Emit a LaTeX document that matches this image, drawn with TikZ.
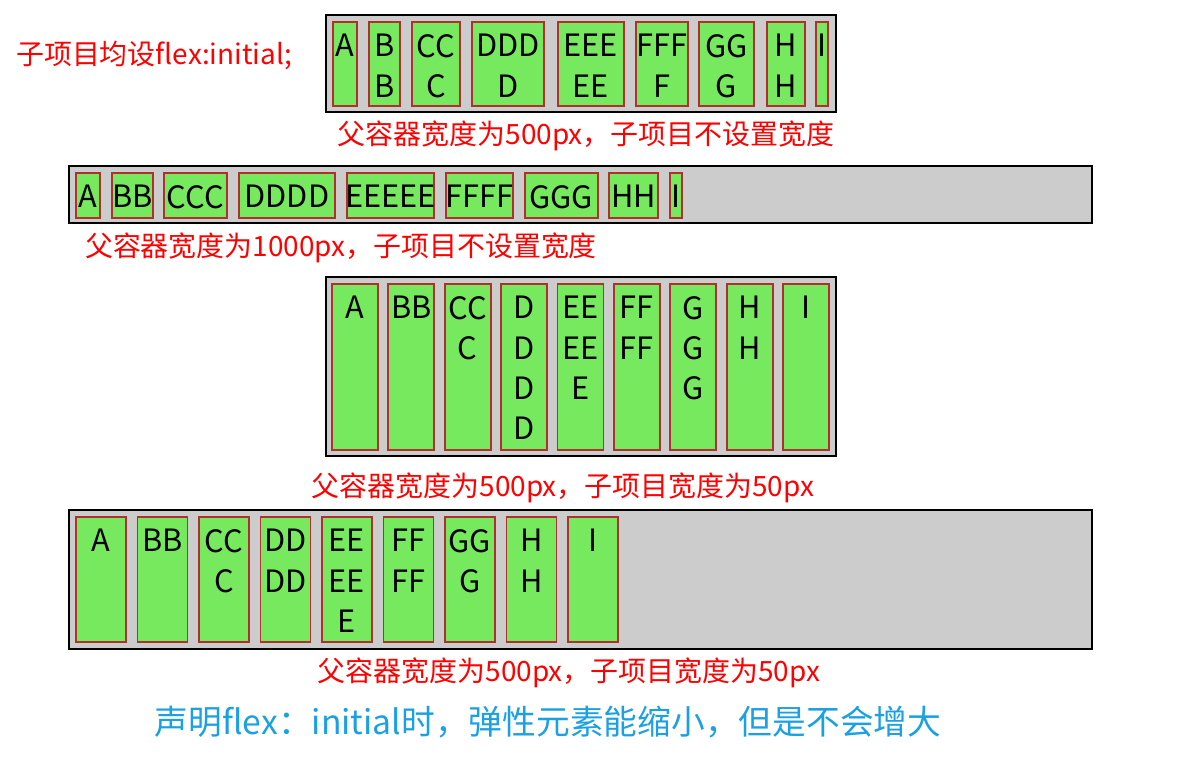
\documentclass[tikz,border=0pt]{standalone}
\usepackage{fontspec}
\newfontfamily\cjk{Noto Sans CJK SC}
\definecolor{itemGreen}{RGB}{118,233,94}
\definecolor{itemBorder}{RGB}{176,48,48}
\definecolor{boxGray}{RGB}{204,204,204}
\definecolor{noteRed}{RGB}{255,0,0}
\definecolor{noteBlue}{RGB}{27,161,226}
\tikzset{
	parentBox/.style 2 args={rectangle, draw=black, line width=1.2pt, fill=boxGray, anchor=north west, inner sep=0pt, minimum width=#1*0.02cm, minimum height=#2*0.02cm},
	itemBox/.style 2 args={rectangle, draw=itemBorder, line width=1pt, fill=itemGreen, anchor=north west, inner sep=0pt, minimum width=#1*0.02cm, minimum height=#2*0.02cm},
	itemText/.style={anchor=north, inner sep=0pt, yshift=-7.3pt, align=center, font=\cjk\fontsize{17.5}{23}\selectfont},
	noteText/.style={inner sep=0pt, text=noteRed, font=\cjk\fontsize{15.9}{19}\selectfont}
}
\begin{document}
\begin{tikzpicture}[x=0.02cm, y=-0.02cm]
	\useasboundingbox (0,0) rectangle (1202,760);
		% row 1: 500px, no width
		\node(row1Title)[noteText] at (154,55){子项目均设flex:initial;};
		\node[parentBox={510}{97}](row1Box) at (325,14){};
		\node[itemBox={24}{84}](row1ItemA) at (332,21){};
		\node[itemBox={31}{84}](row1ItemB) at (368,21){};
		\node[itemBox={48}{84}](row1ItemC) at (411,21){};
		\node[itemBox={72}{84}](row1ItemD) at (471,21){};
		\node[itemBox={66}{84}](row1ItemE) at (557,21){};
		\node[itemBox={52}{84}](row1ItemF) at (635,21){};
		\node[itemBox={55}{84}](row1ItemG) at (698,21){};
		\node[itemBox={38}{84}](row1ItemH) at (766,21){};
		\node[itemBox={12}{84}](row1ItemI) at (815,21){};
		\node[itemText](row1ItemALabel) at (row1ItemA.north){A};
		\node[itemText](row1ItemBLabel) at (row1ItemB.north){B\\B};
		\node[itemText](row1ItemCLabel) at (row1ItemC.north){CC\\C};
		\node[itemText](row1ItemDLabel) at (row1ItemD.north){DDD\\D};
		\node[itemText](row1ItemELabel) at (row1ItemE.north){EEE\\EE};
		\node[itemText](row1ItemFLabel) at (row1ItemF.north){FFF\\F};
		\node[itemText](row1ItemGLabel) at (row1ItemG.north){GG\\G};
		\node[itemText](row1ItemHLabel) at (row1ItemH.north){H\\H};
		\node[itemText](row1ItemILabel) at (row1ItemI.north){I};
		\node(row1Note)[noteText] at (586,136){父容器宽度为500px，子项目不设置宽度};
		% row 2: 1000px, no width
		\node[parentBox={1023}{57}](row2Box) at (68,165){};
		\node[itemBox={24}{45}](row2ItemA) at (75,172){};
		\node[itemBox={41}{45}](row2ItemB) at (111,172){};
		\node[itemBox={63}{45}](row2ItemC) at (163,172){};
		\node[itemBox={96}{45}](row2ItemD) at (238,172){};
		\node[itemBox={87}{45}](row2ItemE) at (346,172){};
		\node[itemBox={67}{45}](row2ItemF) at (445,172){};
		\node[itemBox={73}{45}](row2ItemG) at (524,172){};
		\node[itemBox={49}{45}](row2ItemH) at (608,172){};
		\node[itemBox={12}{45}](row2ItemI) at (669,172){};
		\node[itemText](row2ItemALabel) at (row2ItemA.north){A};
		\node[itemText](row2ItemBLabel) at (row2ItemB.north){BB};
		\node[itemText](row2ItemCLabel) at (row2ItemC.north){CCC};
		\node[itemText](row2ItemDLabel) at (row2ItemD.north){DDDD};
		\node[itemText](row2ItemELabel) at (row2ItemE.north){EEEEE};
		\node[itemText](row2ItemFLabel) at (row2ItemF.north){FFFF};
		\node[itemText](row2ItemGLabel) at (row2ItemG.north){GGG};
		\node[itemText](row2ItemHLabel) at (row2ItemH.north){HH};
		\node[itemText](row2ItemILabel) at (row2ItemI.north){I};
		\node(row2Note)[noteText] at (341,248){父容器宽度为1000px，子项目不设置宽度};
		% row 3: 500px, width 50px
		\node[parentBox={510}{179}](row3Box) at (325,276){};
		\node[itemBox={46}{166}](row3ItemA) at (331,283){};
		\node[itemBox={46}{166}](row3ItemB) at (387.4,283){};
		\node[itemBox={46}{166}](row3ItemC) at (443.8,283){};
		\node[itemBox={46}{166}](row3ItemD) at (500.2,283){};
		\node[itemBox={46}{166}](row3ItemE) at (556.6,283){};
		\node[itemBox={46}{166}](row3ItemF) at (613,283){};
		\node[itemBox={46}{166}](row3ItemG) at (669.4,283){};
		\node[itemBox={46}{166}](row3ItemH) at (725.8,283){};
		\node[itemBox={46}{166}](row3ItemI) at (782.2,283){};
		\node[itemText](row3ItemALabel) at (row3ItemA.north){A};
		\node[itemText](row3ItemBLabel) at (row3ItemB.north){BB};
		\node[itemText](row3ItemCLabel) at (row3ItemC.north){CC\\C};
		\node[itemText](row3ItemDLabel) at (row3ItemD.north){D\\D\\D\\D};
		\node[itemText](row3ItemELabel) at (row3ItemE.north){EE\\EE\\E};
		\node[itemText](row3ItemFLabel) at (row3ItemF.north){FF\\FF};
		\node[itemText](row3ItemGLabel) at (row3ItemG.north){G\\G\\G};
		\node[itemText](row3ItemHLabel) at (row3ItemH.north){H\\H};
		\node[itemText](row3ItemILabel) at (row3ItemI.north){I};
		\node(row3Note)[noteText] at (563,488){父容器宽度为500px，子项目宽度为50px};
		% row 4: wide box, width 50px
		\node[parentBox={1023}{139}](row4Box) at (68,509){};
		\node[itemBox={50}{125}](row4ItemA) at (75,516){};
		\node[itemBox={50}{125}](row4ItemB) at (136.5,516){};
		\node[itemBox={50}{125}](row4ItemC) at (198,516){};
		\node[itemBox={50}{125}](row4ItemD) at (259.5,516){};
		\node[itemBox={50}{125}](row4ItemE) at (321,516){};
		\node[itemBox={50}{125}](row4ItemF) at (382.5,516){};
		\node[itemBox={50}{125}](row4ItemG) at (444,516){};
		\node[itemBox={50}{125}](row4ItemH) at (505.5,516){};
		\node[itemBox={50}{125}](row4ItemI) at (567,516){};
		\node[itemText](row4ItemALabel) at (row4ItemA.north){A};
		\node[itemText](row4ItemBLabel) at (row4ItemB.north){BB};
		\node[itemText](row4ItemCLabel) at (row4ItemC.north){CC\\C};
		\node[itemText](row4ItemDLabel) at (row4ItemD.north){DD\\DD};
		\node[itemText](row4ItemELabel) at (row4ItemE.north){EE\\EE\\E};
		\node[itemText](row4ItemFLabel) at (row4ItemF.north){FF\\FF};
		\node[itemText](row4ItemGLabel) at (row4ItemG.north){GG\\G};
		\node[itemText](row4ItemHLabel) at (row4ItemH.north){H\\H};
		\node[itemText](row4ItemILabel) at (row4ItemI.north){I};
		\node(row4Note)[noteText] at (569,673){父容器宽度为500px，子项目宽度为50px};
		\node(summaryNote)[noteText, text=noteBlue, font=\cjk\fontsize{19.2}{23}\selectfont] at (548,722){声明flex：initial时，弹性元素能缩小，但是不会增大};
	\end{tikzpicture}
\end{document}
